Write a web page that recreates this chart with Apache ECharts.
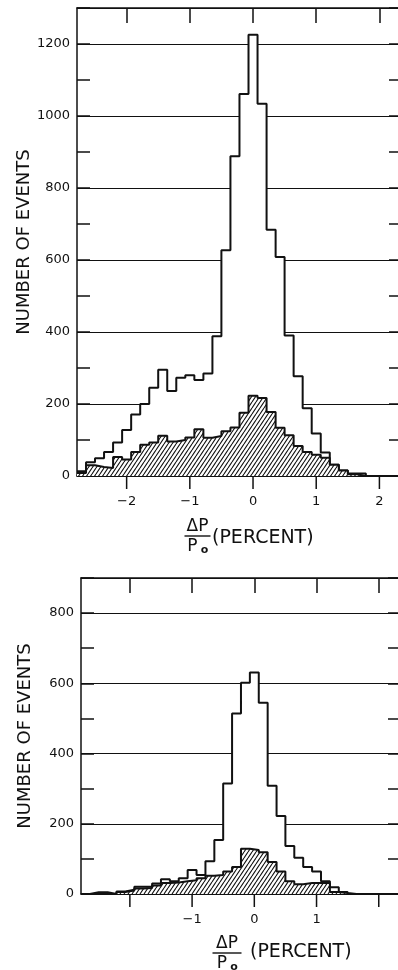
<!DOCTYPE html>
<html>
<head>
<meta charset="utf-8">
<script src="https://cdn.jsdelivr.net/npm/echarts@6/dist/echarts.min.js"></script>
<style>
  html, body { margin: 0; padding: 0; background: #fff; }
  #main { width: 398px; height: 970px; }
</style>
</head>
<body>
<div id="main"></div>
<script>
// 直方图的 bin 中心 (ΔP/P0, 百分比), bin 宽度约 1/7 %
const binCenters = [
  -2.714, -2.571, -2.429, -2.286, -2.143, -2.000, -1.857, -1.714, -1.571,
  -1.429, -1.286, -1.143, -1.000, -0.857, -0.714, -0.571, -0.429, -0.286,
  -0.143, 0.000, 0.143, 0.286, 0.429, 0.571, 0.714, 0.857, 1.000, 1.143,
  1.286, 1.429, 1.571, 1.714, 1.857, 2.000, 2.143, 2.286
]
const binWidth = 0.1429

// 上图: 全部事例 / 阴影部分
const topAll = [
  13, 38, 49, 67, 93, 128, 171, 200, 245, 295, 236, 273, 280, 267, 285, 388, 627, 888,
  1061, 1226, 1034, 684, 608, 390, 277, 188, 118, 65, 31, 15, 7, 7, 0, 0, 0, 0
]
const topHatched = [
  8, 30, 25, 22, 53, 46, 67, 87, 93, 112, 96, 100, 107, 130, 106, 111, 124, 135,
  176, 223, 217, 178, 134, 113, 83, 67, 59, 51, 31, 15, 5, 0, 0, 0, 0, 0
]
// 下图
const bottomAll = [
  0, 5, 5, 0, 7, 12, 21, 21, 30, 42, 36, 45, 68, 54, 93, 154, 315, 514,
  602, 631, 545, 308, 222, 137, 103, 77, 64, 36, 19, 6, 0, 0, 0, 0, 0, 0
]
const bottomHatched = [
  0, 0, 0, 0, 6, 10, 16, 17, 24, 31, 33, 36, 39, 45, 52, 54, 64, 77,
  129, 125, 119, 91, 64, 36, 28, 31, 31, 31, 6, 3, 0, 0, 0, 0, 0, 0
]

// 刻度
const xTicks = [-2, -1, 0, 1, 2]
const xLabelsTop = [-2, -1, 0, 1, 2]
const xLabelsBottom = [-1, 0, 1]
const yMaxTop = 1300
const yMaxBottom = 900

const ink = '#111'
const font = 'DejaVu Sans'
const xMin = binCenters[0] - binWidth / 2
const xMax = binCenters[binCenters.length - 1] + binWidth / 2

// 阶梯线: 每个 bin 的左边界 + 最后一个右边界
function stepData (counts) {
  const pts = counts.map((c, i) => [binCenters[i] - binWidth / 2, c])
  const last = counts.length - 1
  pts.push([binCenters[last] + binWidth / 2, counts[last]])
  return pts
}

// 斜线填充图案
const hatch = document.createElement('canvas')
hatch.width = 4
hatch.height = 6
const g = hatch.getContext('2d')
g.fillStyle = '#fff'
g.fillRect(0, 0, 4, 6)
g.strokeStyle = ink
g.lineWidth = 1.1
g.beginPath()
for (let s = -4; s <= 4; s += 4) {
  g.moveTo(s, 6)
  g.lineTo(s + 4, 0)
}
g.stroke()

const axisLineStyle = { color: ink, width: 1.5 }
const labelStyle = { color: ink, fontFamily: font, fontSize: 13 }

// 每个 grid 两条 x 轴: 底部轴线+标签 / 顶部框线+向内刻度
function xAxes (gridIndex, labels) {
  const base = { gridIndex, type: 'value', min: xMin, max: xMax, splitLine: { show: false } }
  return [
    {
      ...base, position: 'bottom',
      axisLine: { show: true, onZero: false, lineStyle: axisLineStyle },
      axisTick: { show: false },
      axisLabel: {
        ...labelStyle, customValues: labels, margin: 19,
        formatter: v => String(v).replace('-', '\u2212')
      }
    },
    {
      ...base, position: 'top',
      axisLine: { show: true, onZero: false, lineStyle: axisLineStyle },
      axisTick: { show: true, customValues: xTicks, inside: true, length: 15, lineStyle: axisLineStyle },
      axisLabel: { show: false }
    }
  ]
}

function yAxes (gridIndex, max, nameGap) {
  const base = { gridIndex, type: 'value', min: 0, max }
  return [
    {
      ...base, position: 'left', interval: 100,
      name: 'NUMBER OF EVENTS', nameLocation: 'middle', nameGap, nameMoveOverlap: false,
      nameTextStyle: { color: ink, fontFamily: font, fontSize: 18 },
      axisLine: { show: true, onZero: false, lineStyle: axisLineStyle },
      axisTick: { show: true, inside: true, length: 13, lineStyle: axisLineStyle },
      axisLabel: {
        ...labelStyle, margin: 7,
        formatter: v => (v % 200 === 0 && v < max) ? String(v) : ''
      },
      splitLine: { show: false }
    },
    {
      ...base, position: 'right', interval: 100,
      axisLine: { show: true, onZero: false, lineStyle: axisLineStyle },
      axisTick: { show: true, inside: true, length: 13, lineStyle: axisLineStyle },
      axisLabel: { show: false },
      splitLine: { show: false }
    },
    {
      ...base, position: 'left', interval: 200,
      axisLine: { show: false, onZero: false },
      axisTick: { show: false },
      axisLabel: { show: false },
      splitLine: { show: true, lineStyle: { color: ink, width: 1.2 } }
    }
  ]
}

function histSeries (xi, yi, all, hatched) {
  return [
    {
      type: 'line', step: 'end', xAxisIndex: xi, yAxisIndex: yi,
      data: stepData(all), symbol: 'none', z: 3,
      lineStyle: { color: ink, width: 2 },
      areaStyle: { color: '#fff', opacity: 1 }
    },
    {
      type: 'line', step: 'end', xAxisIndex: xi, yAxisIndex: yi,
      data: stepData(hatched), symbol: 'none', z: 4,
      lineStyle: { color: ink, width: 2 },
      areaStyle: { color: { image: hatch, repeat: 'repeat' }, opacity: 1 }
    },
    // 底边向外的刻度线
    {
      type: 'custom', xAxisIndex: xi, yAxisIndex: yi, z: 5, clip: false, silent: true,
      data: xTicks.map(v => [v, 0]),
      renderItem (params, api) {
        const p = api.coord([api.value(0), api.value(1)])
        return {
          type: 'line',
          shape: { x1: p[0], y1: p[1], x2: p[0], y2: p[1] + 13 },
          style: { stroke: ink, lineWidth: 1.5 }
        }
      }
    }
  ]
}

// x 轴标题: ΔP / Po (PERCENT)
function xTitle (cx, barY, barW, restX, restY) {
  return [
    { type: 'text', x: cx, y: barY - 1, style: { text: '\u0394P', fill: ink, font: '17px ' + font, align: 'center', verticalAlign: 'bottom' } },
    { type: 'line', shape: { x1: cx - barW / 2, y1: barY, x2: cx + barW / 2, y2: barY }, style: { stroke: ink, lineWidth: 1.4 } },
    { type: 'text', x: cx - 5, y: barY + 2, style: { text: 'P', fill: ink, font: '17px ' + font, align: 'center', verticalAlign: 'top' } },
    { type: 'text', x: cx + 7, y: barY + 9, style: { text: 'o', fill: ink, font: 'bold 11px ' + font, align: 'center', verticalAlign: 'top' } },
    { type: 'text', x: restX, y: restY, style: { text: '(PERCENT)', fill: ink, font: '19px ' + font, align: 'left', verticalAlign: 'middle' } }
  ]
}

const chart = echarts.init(document.getElementById('main'), null, { renderer: 'canvas' })
chart.setOption({
  backgroundColor: '#fff',
  animation: false,
  grid: [
    { left: 77, top: 8, right: -4, bottom: 494, containLabel: false, outerBoundsMode: 'none' },
    { left: 81, top: 578, right: -3, bottom: 76, containLabel: false, outerBoundsMode: 'none' }
  ],
  xAxis: [...xAxes(0, xLabelsTop), ...xAxes(1, xLabelsBottom)],
  yAxis: [...yAxes(0, yMaxTop, 44), ...yAxes(1, yMaxBottom, 47)],
  series: [
    ...histSeries(0, 0, topAll, topHatched),
    ...histSeries(2, 3, bottomAll, bottomHatched)
  ],
  graphic: [
    ...xTitle(197.5, 536, 26, 212, 538.5),
    ...xTitle(227, 953, 29, 250, 952.5)
  ]
})
</script>
</body>
</html>
